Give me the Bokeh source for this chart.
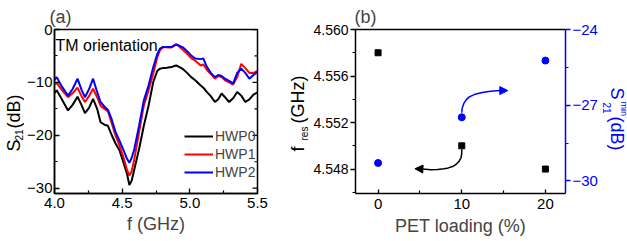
import math
from bokeh.plotting import figure
from bokeh.layouts import row
from bokeh.models import (FixedTicker, LinearAxis, Range1d, Label, Arrow, NormalHead)
from bokeh.embed import file_html
from bokeh.resources import INLINE

# ---------------- data: panel (a) ----------------
freq = [4.00, 4.016, 4.05, 4.10, 4.135, 4.17, 4.20, 4.225, 4.255, 4.285, 4.315, 4.34, 4.37, 4.395,
        4.42, 4.45, 4.48, 4.51, 4.535, 4.553, 4.57, 4.59, 4.625, 4.66, 4.695, 4.73, 4.76, 4.78,
        4.80, 4.82, 4.84, 4.865, 4.885, 4.90, 4.925, 4.95, 4.98, 5.01, 5.04, 5.08, 5.10, 5.125,
        5.155, 5.185, 5.21, 5.235, 5.26, 5.29, 5.32, 5.35, 5.38, 5.41, 5.44, 5.47, 5.50]
hwp0 = [-12.0, -11.5, -13.0, -15.3, -14.2, -12.7, -14.3, -15.8, -14.8, -13.1, -15.0, -17.5, -18.0, -18.2,
        -19.8, -21.5, -22.8, -25.2, -27.2, -29.4, -28.6, -26.4, -22.6, -18.2, -14.4, -9.9, -7.8, -7.4,
        -7.3, -7.3, -7.2, -7.1, -6.9, -6.8, -7.1, -7.5, -8.2, -9.0, -9.6, -10.6, -11.0, -11.8,
        -12.6, -13.7, -13.2, -12.1, -12.8, -13.7, -13.0, -11.8, -12.5, -13.7, -13.2, -12.3, -11.9]
hwp1 = [-10.3, -10.1, -11.3, -12.8, -12.0, -11.0, -12.6, -13.7, -12.6, -11.2, -12.8, -14.4, -15.0, -15.5,
        -17.5, -20.0, -21.9, -24.2, -26.5, -27.6, -26.8, -24.5, -19.4, -14.4, -11.5, -8.3, -5.2, -3.9,
        -3.4, -3.3, -3.4, -3.4, -3.1, -2.8, -3.3, -3.9, -4.6, -5.4, -5.9, -6.8, -6.6, -7.6,
        -8.4, -9.3, -8.8, -9.0, -9.6, -10.0, -10.4, -9.0, -6.5, -7.3, -8.2, -8.2, -7.8]
hwp2 = [-9.5, -9.0, -10.6, -12.5, -11.2, -9.3, -11.4, -12.8, -11.3, -9.3, -11.8, -13.7, -14.6, -15.2,
        -16.8, -19.3, -21.0, -22.8, -24.4, -25.2, -24.3, -22.6, -18.2, -13.4, -10.6, -7.1, -4.6, -3.6,
        -3.3, -3.3, -3.3, -3.3, -3.0, -2.8, -3.1, -3.4, -4.1, -4.9, -5.5, -5.6, -5.5, -7.0,
        -8.2, -9.0, -8.6, -8.8, -9.3, -9.7, -10.2, -8.2, -7.4, -8.2, -9.3, -8.6, -8.0]
series_names = ["HWP0", "HWP1", "HWP2"]
a_xticks = [4.0, 4.5, 5.0, 5.5]
a_xtick_labels = ["4.0", "4.5", "5.0", "5.5"]
a_yticks = [0, -10, -20, -30]
a_yminor = [-5, -15, -25]

# ---------------- data: panel (b) ----------------
pet = [0, 10, 20]
f_res = [4.558, 4.550, 4.548]
s21_min = [-29.29, -27.48, -25.23]
b_xticks = [0, 10, 20]
b_lticks = [4.548, 4.552, 4.556, 4.560]
b_ltick_labels = ["4.548", "4.552", "4.556", "4.560"]
b_rticks = [-30, -27, -24]
# guide arrows (curved)
blue_arrow_x = [10.0, 10.05, 10.25, 10.55, 10.9, 11.5, 12.3, 13.2, 14.1, 14.8]
blue_arrow_y = [-27.30, -27.12, -26.93, -26.78, -26.67, -26.58, -26.51, -26.46, -26.43, -26.42]
black_arrow_x = [10.0, 9.99, 9.9, 9.7, 9.4, 9.0, 8.4, 7.9, 7.1, 6.3, 5.3]
black_arrow_y = [4.5497, 4.5493, 4.54895, 4.5487, 4.54845, 4.54825, 4.54810, 4.54802, 4.54797, 4.54795, 4.54800]

FONT = "Liberation Sans"
BLUE = "#0000ff"
RED = "#ff0000"


def style_axis(ax, size="15px"):
    ax.axis_line_width = 1.5
    ax.major_tick_line_width = 1.3
    ax.minor_tick_line_width = 1.2
    ax.major_label_text_font = FONT
    ax.major_label_text_font_size = size
    ax.major_label_text_color = "black"
    ax.axis_label_text_font = FONT
    ax.axis_label_text_font_style = "normal"
    ax.axis_label_text_font_size = "18px"


def lab(p, text, x, y, size="18px", angle=0.0, color="black", align="left", baseline="middle"):
    p.add_layout(Label(x=x, y=y, x_units="screen", y_units="screen", text=text, angle=angle,
                       text_font=FONT, text_font_size=size, text_color=color,
                       text_align=align, text_baseline=baseline))


def spacer(width):
    s = figure(width=width, height=241, x_range=(0, 1), y_range=(0, 1), title=None,
               x_axis_type=None, y_axis_type=None, output_backend="svg", toolbar_location=None,
               min_border=0, min_border_left=0, min_border_right=0, min_border_top=0, min_border_bottom=0)
    s.outline_line_color = None
    s.grid.visible = False
    return s


def set_title(p, text, offset):
    p.title.text = text
    p.title.text_font = FONT
    p.title.text_font_size = "18px"
    p.title.text_font_style = "normal"
    p.title.align = "left"
    p.title.offset = offset
    p.title.standoff = 6


# ================= panel (a) =================
pa = figure(width=256, height=241, x_range=(4.0, 5.5), y_range=(-31, 0),
            output_backend="svg", toolbar_location=None,
            min_border_left=24, min_border_right=23, min_border_top=29, min_border_bottom=48)
pa.xgrid.visible = False
pa.ygrid.visible = False
pa.outline_line_color = "black"
pa.outline_line_width = 1.5
set_title(pa, "(a)", -5)

ax = pa.xaxis[0]
style_axis(ax)
ax.ticker = FixedTicker(ticks=a_xticks, minor_ticks=[4.25, 4.75, 5.25])
ax.major_label_overrides = {t: s for t, s in zip(a_xticks, a_xtick_labels)}
ax.major_tick_in = 5
ax.major_tick_out = 0
ax.minor_tick_in = 3
ax.minor_tick_out = 0
ax.major_label_standoff = 4
ax.axis_label = "f (GHz)"
ax.axis_label_standoff = 3

ay = pa.yaxis[0]
style_axis(ay)
ay.ticker = FixedTicker(ticks=a_yticks, minor_ticks=a_yminor)
ay.major_tick_in = 5
ay.major_tick_out = 0
ay.minor_tick_in = 3
ay.minor_tick_out = 0
ay.major_label_standoff = 2

# mirror ticks on the right frame edge (inward), drawn as screen-length rays from x = right end
x_right = pa.x_range.end
pa.ray(x=[x_right] * len(a_yticks), y=a_yticks, length=5, length_units="screen",
       angle=math.pi, line_color="black", line_width=1.3)
pa.ray(x=[x_right] * len(a_yminor), y=a_yminor, length=3, length_units="screen",
       angle=math.pi, line_color="black", line_width=1.2)

for ys, col, name in zip([hwp0, hwp1, hwp2], ["black", RED, BLUE], series_names):
    pa.line(freq, ys, line_color=col, line_width=2, legend_label=name)

lg = pa.legend[0]
lg.location = (130, 12)
lg.padding = 0
lg.margin = 0
lg.spacing = 0
lg.glyph_width = 29
lg.glyph_height = 18
lg.label_height = 18
lg.label_standoff = 2
lg.label_text_font = FONT
lg.label_text_font_size = "14px"
lg.border_line_alpha = 0
lg.background_fill_alpha = 0

lab(pa, "TM orientation", 1, 148, size="16px")

# frames of all row members are aligned: bottom edge at canvas y = 193
# spacer with y label of (a): S21(dB)
sa = spacer(24)
lab(sa, "S", 13, 42, angle=math.pi / 2)
lab(sa, "21", 18.5, 53, size="10px", angle=math.pi / 2)
lab(sa, "(dB)", 13, 65, angle=math.pi / 2)

# spacer with left y label of (b): f_res (GHz)
sb = spacer(30)
lab(sb, "f", 17, 42, angle=math.pi / 2)
lab(sb, "res", 24, 53, size="10px", angle=math.pi / 2)
lab(sb, "(GHz)", 17, 70, angle=math.pi / 2)

# ================= panel (b) =================
pb = figure(width=290, height=241, x_range=(-2.7, 22.4), y_range=(4.5459, 4.560),
            output_backend="svg", toolbar_location=None,
            min_border_left=44, min_border_right=35, min_border_top=29, min_border_bottom=47)
pb.extra_y_ranges = {"s21": Range1d(-30.5, -24)}
pb.xgrid.visible = False
pb.ygrid.visible = False
pb.outline_line_color = None
set_title(pb, "(b)", -1)

bx = pb.xaxis[0]
style_axis(bx)
bx.ticker = FixedTicker(ticks=b_xticks, minor_ticks=[5, 15])
bx.major_tick_in = 4
bx.major_tick_out = 0
bx.minor_tick_in = 3
bx.minor_tick_out = 0
bx.major_label_standoff = 5
bx.axis_label = "PET loading (%)"
bx.axis_label_standoff = 4

by = pb.yaxis[0]
style_axis(by, size="14px")
by.ticker = FixedTicker(ticks=b_lticks, minor_ticks=[4.546, 4.550, 4.554, 4.558])
by.major_label_overrides = {t: s for t, s in zip(b_lticks, b_ltick_labels)}
by.major_tick_in = 0
by.major_tick_out = 5
by.minor_tick_in = 0
by.minor_tick_out = 3
by.major_label_standoff = 2

rb = LinearAxis(y_range_name="s21", ticker=FixedTicker(ticks=b_rticks, minor_ticks=[-28.5, -25.5]))
style_axis(rb)
rb.axis_line_color = BLUE
rb.major_tick_line_color = BLUE
rb.minor_tick_line_color = BLUE
rb.major_label_text_color = BLUE
rb.major_tick_in = 0
rb.major_tick_out = 5
rb.minor_tick_in = 0
rb.minor_tick_out = 3
rb.major_label_standoff = 2
pb.add_layout(rb, "right")

tb = LinearAxis(ticker=FixedTicker(ticks=[]), major_label_text_font_size="0px",
                major_tick_in=0, major_tick_out=0, minor_tick_in=0, minor_tick_out=0,
                axis_line_width=1.5, major_label_standoff=0)
pb.add_layout(tb, "above")

pb.scatter(pet, f_res, marker="square", size=6, color="black")
pb.scatter(pet, s21_min, marker="circle", size=7, color=BLUE, y_range_name="s21")

pb.line(blue_arrow_x, blue_arrow_y, line_color=BLUE, line_width=1.5, y_range_name="s21")
pb.add_layout(Arrow(end=NormalHead(size=8, fill_color=BLUE, line_color=BLUE),
                    x_start=blue_arrow_x[-1], y_start=blue_arrow_y[-1], x_end=15.5, y_end=-26.42,
                    line_color=BLUE, line_width=1.5, y_range_name="s21"))
pb.line(black_arrow_x, black_arrow_y, line_color="black", line_width=1.5)
pb.add_layout(Arrow(end=NormalHead(size=8, fill_color="black", line_color="black"),
                    x_start=black_arrow_x[-1], y_start=black_arrow_y[-1], x_end=4.4, y_end=4.54803,
                    line_color="black", line_width=1.5))

# spacer with right y label of (b): S21^min (dB)
sc = spacer(27)
lab(sc, "S", 16, 106, angle=-math.pi / 2, color=BLUE)
lab(sc, "21", 6, 91, size="10px", angle=-math.pi / 2, color=BLUE)
lab(sc, "min", 23, 92, size="9px", angle=-math.pi / 2, color=BLUE)
lab(sc, "(dB)", 16, 77, angle=-math.pi / 2, color=BLUE)

layout = row(sa, pa, sb, pb, sc)
open("out.html", "w").write(file_html(layout, INLINE))
